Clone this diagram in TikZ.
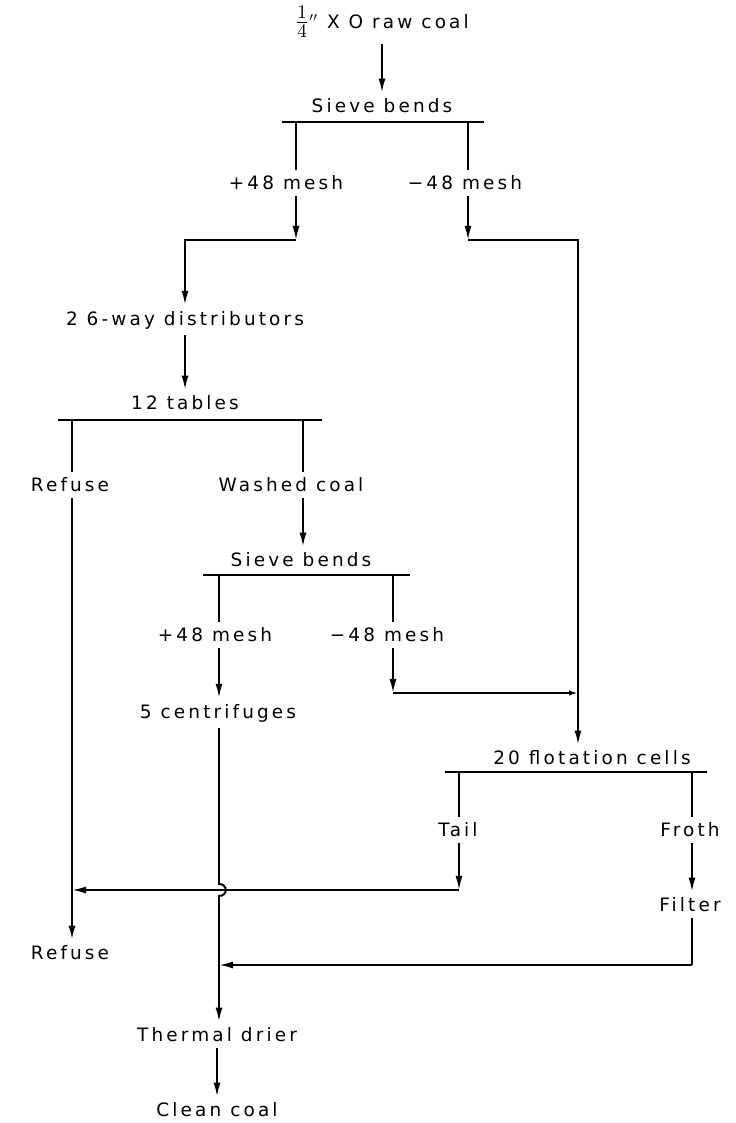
\documentclass[tikz,border=0pt]{standalone}
\usepackage{fontspec}
\setmainfont[LetterSpace=17]{DejaVu Sans}
\usetikzlibrary{arrows.meta}

\begin{document}
\begin{tikzpicture}[x=0.02cm, y=-0.02cm, line width=1.1pt,
  >={Latex[length=8pt,width=4pt]},
  lbl/.style={font=\fontsize{10.5}{12}\selectfont, inner sep=3pt},
  bar/.style={line width=1.4pt}]
  \useasboundingbox (0,0) rectangle (735,1123);
  % feed and first sieve bends
  \node[lbl] (raw) at (382,22) {{\fontsize{15}{15}\selectfont$\frac{1}{4}$}$^{\prime\prime}$ X O raw coal};
  \node[lbl] (sb1) at (382,106) {Sieve bends};
  \draw[->] (raw) -- (sb1);
  \draw[bar] (282,122) -- (484,122);
  \coordinate (s1a) at (296,122); \coordinate (s1b) at (468,122);
  \node[lbl] (p1) at (286,183) {+48 mesh};
  \node[lbl] (m1) at (465,183) {−48 mesh};
  \draw (s1a) -- (s1a |- p1.north);
  \draw (s1b) -- (s1b |- m1.north);
  \coordinate (k1) at (296,240); \coordinate (k2) at (468,240); \coordinate (k3) at (578,240);
  % tables
  \node[lbl] (dist) at (185,320) {2 6-way distributors};
  \node[lbl] (tab) at (185,403) {12 tables};
  \draw[->] (s1a |- p1.south) -- (k1);
  \draw[->] (k1) -| (dist);
  \draw[->] (dist) -- (tab);
  \draw[bar] (58,420) -- (322,420);
  \coordinate (s2a) at (72,420); \coordinate (s2b) at (303,420);
  \node[lbl] (ref1) at (70,485) {Refuse};
  \node[lbl] (wash) at (291,485) {Washed coal};
  \node[lbl] (refB) at (70,953) {Refuse};
  \draw (s2a) -- (s2a |- ref1.north);
  \draw[->] (s2a |- ref1.south) -- (s2a |- refB.north);
  \draw (s2b) -- (s2b |- wash.north);
  % second sieve bends
  \node[lbl] (sb2) at (301,560) {Sieve bends};
  \draw[->] (s2b |- wash.south) -- (s2b |- sb2.north);
  \draw[bar] (203,575) -- (410,575);
  \coordinate (s3a) at (219,575); \coordinate (s3b) at (393,575);
  \node[lbl] (p2) at (215,635) {+48 mesh};
  \node[lbl] (m2) at (387,635) {−48 mesh};
  \node[lbl] (cent) at (218,713) {5 centrifuges};
  \draw (s3a) -- (s3a |- p2.north);
  \draw[->] (s3a |- p2.south) -- (s3a |- cent.north);
  \draw (s3b) -- (s3b |- m2.north);
  \coordinate (k4) at (393,693);
  \draw[->] (s3b |- m2.south) -- (k4);
  \draw[-{Latex[open,length=5pt,width=3pt]}] (k4) -- (k4 -| k3);
  % flotation
  \node[lbl] (flot) at (592,758) {20 flotation cells};
  \draw[->] (s1b |- m1.south) -- (k2);
  \draw[->] (k2) -- (k3) -- (k3 |- flot.north);
  \draw[bar] (445,772) -- (707,772);
  \coordinate (s4a) at (459,772); \coordinate (s4b) at (692,772);
  \node[lbl] (tail) at (458,830) {Tail};
  \node[lbl] (froth) at (690,830) {Froth};
  \node[lbl] (filt) at (690,905) {Filter};
  \draw (s4a) -- (s4a |- tail.north);
  \coordinate (k5) at (459,890);
  \draw[->] (s4a |- tail.south) -- (k5);
  \draw[->] (k5) -- (k5 -| s2a);
  \draw (s4b) -- (s4b |- froth.north);
  \draw[->] (s4b |- froth.south) -- (s4b |- filt.north);
  \coordinate (k6) at (692,965);
  \draw (s4b |- filt.south) -- (k6);
  \draw[->] (k6) -- (k6 -| s3a);
  % drier
  \node[lbl] (drier) at (217,1035) {Thermal drier};
  \node[lbl] (clean) at (217,1110) {Clean coal};
  \coordinate (hopa) at (219,884); \coordinate (hopb) at (219,896);
  \draw[->] (s3a |- cent.south) -- (hopa) .. controls +(9,0) and +(9,0) .. (hopb)
    -- (s3a |- drier.north);
  \draw[->] (drier) -- (clean);
\end{tikzpicture}
\end{document}
